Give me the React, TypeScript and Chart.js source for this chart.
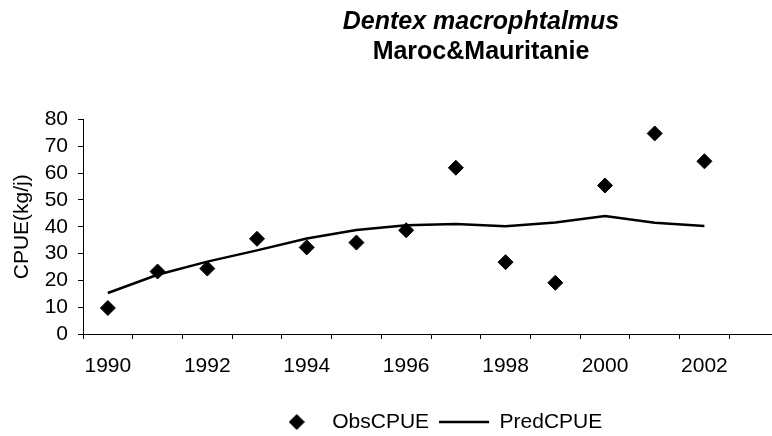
import React, { useEffect, useRef } from 'react';
import { Chart, registerables } from 'chart.js';

Chart.register(...registerables);

// ---- data ----
const years = ['1990', '1991', '1992', '1993', '1994', '1995', '1996', '1997', '1998', '1999', '2000', '2001', '2002', '2003'];
const shownYearLabels = ['1990', '1992', '1994', '1996', '1998', '2000', '2002'];
const obsCPUE = [9.7, 23.3, 24.4, 35.5, 32.3, 34.1, 38.7, 62.0, 26.8, 19.1, 55.4, 74.8, 64.4];
const predCPUE = [15.3, 22.1, 27.0, 31.2, 35.6, 38.8, 40.6, 41.0, 40.2, 41.6, 44.0, 41.5, 40.3];
const yMin = 0;
const yMax = 80;
const yStep = 10;

const FONT = "'Liberation Sans', Arial, Helvetica, sans-serif";
const TITLE_CENTER = 481;
const LEGEND_CENTER = 437;

function makeDiamond(size: number): HTMLCanvasElement {
  const c = document.createElement('canvas');
  c.width = size;
  c.height = size;
  const ctx = c.getContext('2d')!;
  ctx.fillStyle = '#000';
  ctx.beginPath();
  ctx.moveTo(size / 2, 0);
  ctx.lineTo(size, size / 2);
  ctx.lineTo(size / 2, size);
  ctx.lineTo(0, size / 2);
  ctx.closePath();
  ctx.fill();
  return c;
}

const centerBoxes = {
  id: 'centerBoxes',
  afterLayout(chart: any) {
    for (const box of chart.boxes) {
      let target: number | null = null;
      if (box === chart.legend) target = LEGEND_CENTER;
      else if (box.position === 'top' && box.options && box.options.text) target = TITLE_CENTER;
      if (target !== null) {
        const dx = target - (box.left + box.right) / 2;
        box.left += dx;
        box.right += dx;
      }
    }
  },
};

export default function App() {
  const ref = useRef<HTMLCanvasElement>(null);

  useEffect(() => {
    if (!ref.current) return;
    const diamond = makeDiamond(16);
    const chart = new Chart(ref.current, {
      type: 'line',
      data: {
        labels: years,
        datasets: [
          {
            label: 'ObsCPUE',
            data: obsCPUE,
            showLine: false,
            pointStyle: 'rectRot',
            pointRadius: 7.5,
            pointBackgroundColor: '#000',
            pointBorderColor: '#000',
            pointBorderWidth: 1,
            borderColor: '#000',
            backgroundColor: '#000',
          },
          {
            label: 'PredCPUE',
            data: predCPUE,
            borderColor: '#000',
            backgroundColor: '#000',
            borderWidth: 2.5,
            pointRadius: 0,
            tension: 0,
            fill: false,
          },
        ],
      },
      options: {
        responsive: false,
        animation: false,
        events: [],
        layout: { padding: { left: 0, right: 21, top: 0, bottom: 7.5 } },
        scales: {
          x: {
            type: 'category',
            offset: true,
            grid: { offset: true, drawOnChartArea: false, drawTicks: true, tickLength: 5, color: '#000' },
            border: { display: true, color: '#000', width: 1 },
            ticks: {
              autoSkip: false,
              maxRotation: 0,
              minRotation: 0,
              color: '#000',
              padding: 15,
              font: { size: 21, family: FONT },
              callback: function (this: any, v: any) {
                const l = this.getLabelForValue(v);
                return shownYearLabels.includes(l) ? l : '';
              },
            },
            afterFit(scale: any) {
              scale.height = 67.5;
            },
          },
          y: {
            min: yMin,
            max: yMax,
            grid: { drawOnChartArea: false, drawTicks: true, tickLength: 5, color: '#000' },
            border: { display: true, color: '#000', width: 1 },
            ticks: {
              stepSize: yStep,
              autoSkip: false,
              color: '#000',
              padding: 10,
              font: { size: 21, family: FONT },
            },
            title: {
              display: true,
              text: 'CPUE(kg/j)',
              color: '#000',
              font: { size: 21, family: FONT },
              padding: { top: 10, bottom: 0 },
            },
            afterFit(scale: any) {
              scale.width = 83;
            },
          },
        },
        plugins: {
          tooltip: { enabled: false },
          title: {
            display: true,
            text: 'Dentex macrophtalmus',
            color: '#000',
            font: { size: 25, weight: 'bold', style: 'italic', family: FONT },
            padding: { top: 7, bottom: 0 },
          },
          subtitle: {
            display: true,
            text: 'Maroc&Mauritanie',
            color: '#000',
            font: { size: 25, weight: 'bold', family: FONT },
            padding: { top: 0, bottom: 52.5 },
          },
          legend: {
            display: true,
            position: 'bottom',
            labels: {
              usePointStyle: true,
              pointStyleWidth: 50,
              padding: 10,
              color: '#000',
              font: { size: 21, family: FONT },
              generateLabels: () => [
                {
                  text: 'ObsCPUE',
                  pointStyle: diamond,
                  fillStyle: '#000',
                  strokeStyle: '#000',
                  lineWidth: 0,
                  hidden: false,
                  datasetIndex: 0,
                  rotation: 0,
                },
                {
                  text: 'PredCPUE',
                  pointStyle: 'line',
                  fillStyle: '#000',
                  strokeStyle: '#000',
                  lineWidth: 2.5,
                  hidden: false,
                  datasetIndex: 1,
                  rotation: 0,
                },
              ],
            },
          },
        },
      } as any,
      plugins: [centerBoxes],
    });
    return () => chart.destroy();
  }, []);

  return (
    <div style={{ position: 'fixed', left: 0, top: 0, width: 772, height: 436, overflow: 'hidden', background: '#fff' }}>
      <canvas ref={ref} width={800} height={450} style={{ display: 'block' }} />
    </div>
  );
}
